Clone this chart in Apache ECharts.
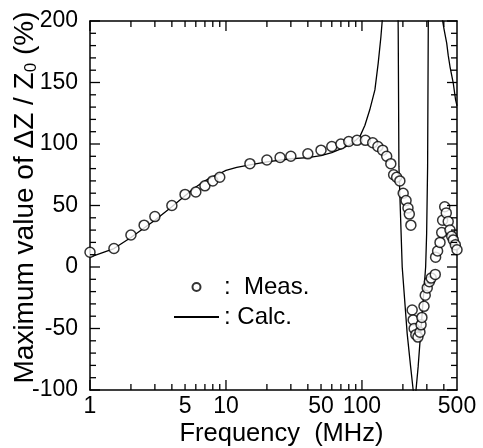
<!DOCTYPE html>
<html>
<head>
<meta charset="utf-8">
<script src="https://cdn.jsdelivr.net/npm/echarts@6/dist/echarts.min.js"></script>
<style>
html,body{margin:0;padding:0;background:#fff;}
#c{width:483px;height:448px;}
</style>
</head>
<body>
<div id="c"></div>
<script>
// Measured points (frequency in MHz, max value of dZ/Z0 in %)
const measFreq = [1, 1.5, 2, 2.5, 3, 4, 5, 6, 7, 8, 9, 15, 20, 25, 30, 40, 50, 60, 70, 80, 92, 106, 120, 131, 142, 152, 163, 171, 180, 190, 201, 211, 218, 223, 229, 234, 238, 242, 249, 258, 267, 272, 276, 286, 292, 302, 313, 323, 346, 348, 360, 375, 386, 392, 406, 417, 431, 444, 457, 470, 486, 500];
const measVal  = [12, 15, 26, 34, 41, 50, 59, 61, 66, 70, 73, 84, 87, 89, 90, 92, 95, 98, 100, 102, 103, 103, 101, 98, 95, 90, 84, 75, 73, 70, 60, 54, 48, 43, 34, -35, -43, -50, -55, -57, -53, -47, -41, -32, -23, -17, -12, -9, -6, 8, 13, 20, 28, 38, 49, 44, 37, 30, 25, 22, 18, 14];

// Calculated curve (null = break in the curve)
const calcFreq = [1, 1.5, 2, 3, 4, 5, 6, 7, 8, 9, 10, 12, 15, 20, 30, 40, 50, 60, 70, 80, 90, 96.5, 105, 114, 124.5, 131.6, 137.8, 140.9, 143, 145, 160, 183, 184.8, 187, 197.7, 215, 228, 238, 245, 259, 270, 282, 294, 299, 304, 307.5, 309, 350, 385, 392, 402, 420, 431, 444, 470, 488, 500];
const calcVal  = [8, 15, 24, 38, 49, 58, 65, 70, 73.5, 76, 78.5, 81, 83, 85.5, 88, 89, 90.5, 93, 96, 99, 103, 106, 115, 127.6, 144, 165.6, 187, 200, 215, 240, null, 240, 190, 82, 0, -54, -81, -100, -110, -81, -54, -27, 0, 27, 82, 200, 240, null, 240, 200, 193, 182, 172, 163, 149, 136, 131];

// Axis ticks
const xLabelTicks = [1, 5, 10, 50, 100, 500];
const xMajorTicks = [1, 10, 100];
const xMinorTicks = [2, 3, 4, 5, 6, 7, 8, 9, 20, 30, 40, 50, 60, 70, 80, 90, 200, 300, 400];
const yMajorTicks = [-100, -50, 0, 50, 100, 150, 200];
const yMinorTicks = [-90, -80, -70, -60, -40, -30, -20, -10, 10, 20, 30, 40, 60, 70, 80, 90, 110, 120, 130, 140, 160, 170, 180, 190];
const xMin = 1, xMax = 500, yMin = -100, yMax = 200;

const measData = measFreq.map((f, i) => [f, measVal[i]]);
const calcData = calcFreq.map((f, i) => [f, calcVal[i] === null ? '-' : calcVal[i]]);

const FONT = '"Liberation Sans", Arial, Helvetica, sans-serif';
const lineSty = {color: '#000', width: 1.5};

const chart = echarts.init(document.getElementById('c'), null, {renderer: 'canvas'});
const axes = [
  {
    type: 'log', logBase: 10, min: xMin, max: xMax, position: 'bottom',
    axisLine: {show: true, onZero: false, lineStyle: lineSty},
    axisTick: {show: false},
    axisLabel: {show: true, customValues: xLabelTicks, fontFamily: FONT, fontSize: 23, color: '#000', margin: 5,
      formatter: v => String(Math.round(v))},
    splitLine: {show: false}, minorTick: {show: false},
    name: 'Frequency  (MHz)', nameLocation: 'middle', nameGap: 31, nameMoveOverlap: false,
    nameTextStyle: {fontFamily: FONT, fontSize: 25.5, color: '#000', padding: [0, 0, 0, 16]}
  },
  {
    type: 'log', logBase: 10, min: xMin, max: xMax, position: 'top',
    axisLine: {show: true, onZero: false, lineStyle: lineSty},
    axisTick: {show: false}, axisLabel: {show: false},
    splitLine: {show: false}, minorTick: {show: false}
  }
];

function yAx(pos, labels) {
  const a = {
    type: 'value', min: yMin, max: yMax, interval: 50, position: pos,
    axisLine: {show: true, onZero: false, lineStyle: lineSty},
    axisTick: {show: false},
    minorTick: {show: false},
    axisLabel: labels ? {show: true, fontFamily: FONT, fontSize: 23, color: '#000', margin: 12} : {show: false},
    splitLine: {show: false}, minorSplitLine: {show: false}
  };
  if (labels) {
    a.name = '{a|Maximum value of ΔZ / Z}{s|0}{a| (%)}';
    a.nameLocation = 'middle';
    a.nameGap = 50;
    a.nameMoveOverlap = false;
    a.nameRotate = 90;
    a.nameTextStyle = {
      fontFamily: FONT, color: '#000', padding: [0, 0, 0, 16],
      rich: {
        a: {fontFamily: FONT, fontSize: 28, color: '#000', lineHeight: 30},
        s: {fontFamily: FONT, fontSize: 17, color: '#000', lineHeight: 30, verticalAlign: 'bottom'}
      }
    };
  }
  return a;
}

chart.setOption({
  animation: false,
  backgroundColor: '#fff',
  grid: {left: 90, right: 26, top: 21, bottom: 58, containLabel: false, outerBoundsMode: 'none'},
  xAxis: axes,
  yAxis: [yAx('left', true), yAx('right', false)],
  legend: {
    orient: 'vertical', left: 168, top: 270,
    itemWidth: 45, itemHeight: 8, itemGap: 6,
    data: [{name: 'Meas.'}, {name: 'Calc.', itemStyle: {opacity: 0}}],
    formatter: n => n === 'Meas.' ? ':  Meas.' : ': Calc.',
    textStyle: {fontFamily: FONT, fontSize: 24, color: '#000'}
  },
  series: [
    {
      name: 'Calc.', type: 'line', xAxisIndex: 0, yAxisIndex: 0,
      data: calcData, symbol: 'none', showSymbol: false, connectNulls: false,
      lineStyle: {color: '#000', width: 1.3}, itemStyle: {color: '#000'},
      clip: true, z: 2
    },
    {
      name: 'Meas.', type: 'scatter', xAxisIndex: 0, yAxisIndex: 0,
      data: measData, symbol: 'circle', symbolSize: 10,
      itemStyle: {color: '#fff', borderColor: '#000', borderWidth: 1.5},
      clip: false, z: 3
    }
  ]
});

// Inward tick marks on all four frame sides, positioned through the chart's own scales
const toPx = (x, y) => chart.convertToPixel({xAxisIndex: 0, yAxisIndex: 0}, [x, y]);
const tickStyle = {stroke: '#000', lineWidth: 1.3};
const els = [];
function xTick(f, len) {
  const b = toPx(f, yMin), t = toPx(f, yMax);
  els.push({type: 'line', silent: true, z: 10, shape: {x1: b[0], y1: b[1], x2: b[0], y2: b[1] - len}, style: tickStyle});
  els.push({type: 'line', silent: true, z: 10, shape: {x1: t[0], y1: t[1], x2: t[0], y2: t[1] + len}, style: tickStyle});
}
function yTick(v, len) {
  const l = toPx(xMin, v), r = toPx(xMax, v);
  els.push({type: 'line', silent: true, z: 10, shape: {x1: l[0], y1: l[1], x2: l[0] + len, y2: l[1]}, style: tickStyle});
  els.push({type: 'line', silent: true, z: 10, shape: {x1: r[0], y1: r[1], x2: r[0] - len, y2: r[1]}, style: tickStyle});
}
xMajorTicks.forEach(f => xTick(f, 10));
xMinorTicks.forEach(f => xTick(f, 6));
yMajorTicks.forEach(v => yTick(v, 10));
yMinorTicks.forEach(v => yTick(v, 6));
chart.setOption({graphic: {elements: els}});
</script>
</body>
</html>
